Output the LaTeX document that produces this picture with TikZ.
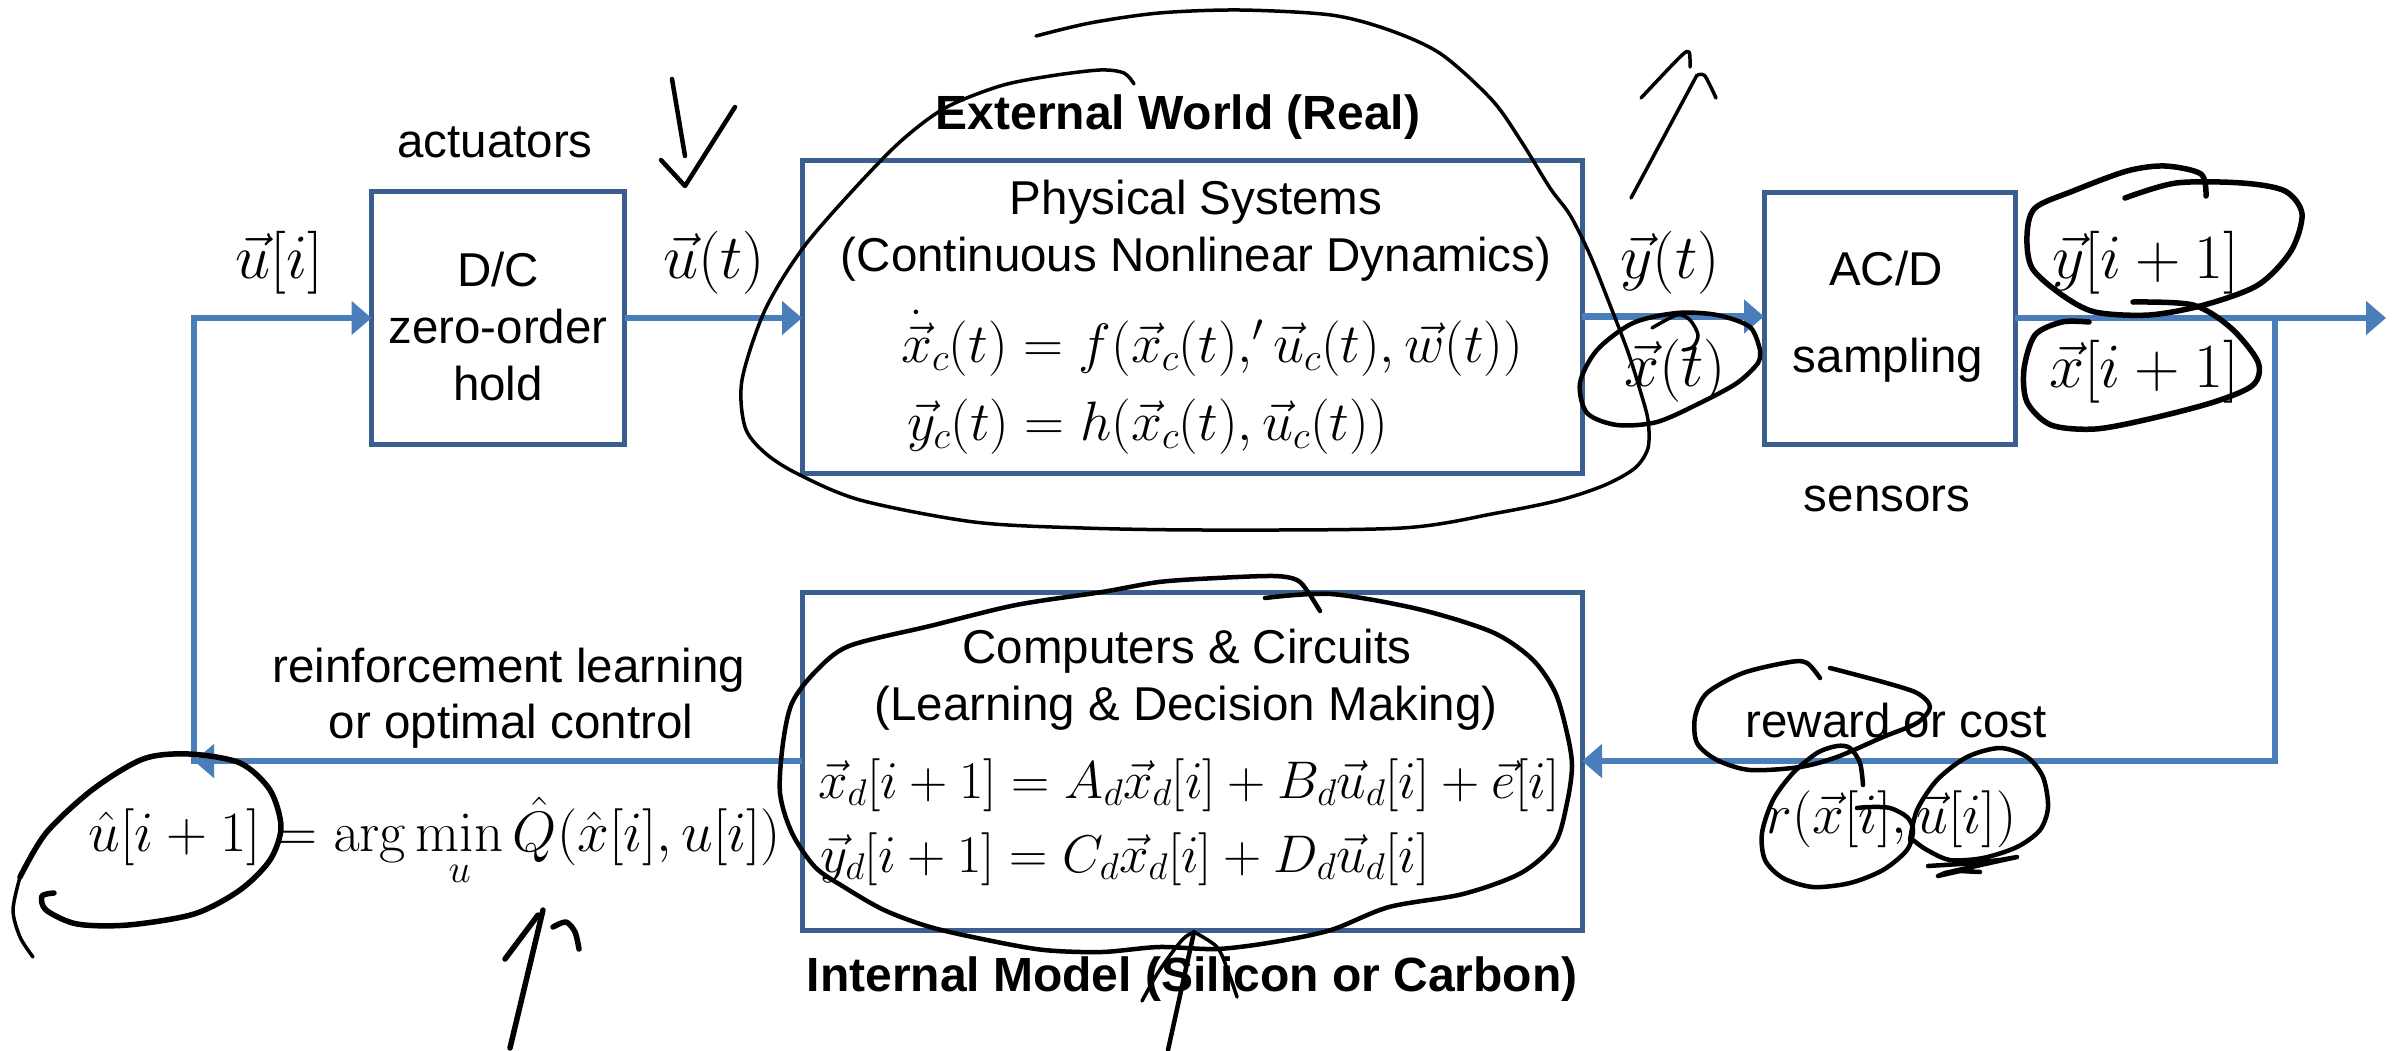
\RequirePackage{fix-cm}
\documentclass[tikz,border=0pt]{standalone}
\usepackage[no-math]{fontspec}
\setmainfont{Liberation Sans}
\usetikzlibrary{arrows.meta}
\definecolor{arrowblue}{HTML}{4A7EBB}
\definecolor{boxblue}{HTML}{3A5F8E}
\tikzset{
  blk/.style={draw=boxblue, line width=5pt, inner sep=0pt, outer sep=0pt},
  conn/.style={draw=arrowblue, line width=6.5pt, -{Triangle[length=20pt,width=33pt]}},
  txt/.style={font=\fontsize{47.5}{50}\selectfont, inner sep=0pt, anchor=base},
  bld/.style={font=\fontsize{48}{50}\selectfont\bfseries, inner sep=0pt, anchor=base},
  mbig/.style={font=\fontsize{63}{66}\selectfont, inner sep=0pt, anchor=base},
  meq/.style={font=\fontsize{55.5}{60}\selectfont, inner sep=0pt, anchor=base west},
  mdq/.style={font=\fontsize{53}{60}\selectfont, inner sep=0pt, anchor=base west},
  mlo/.style={font=\fontsize{57}{60}\selectfont, inner sep=0pt, anchor=base},
  ink/.style={draw=black, line width=4.5pt, line cap=round, line join=round},
  inkthin/.style={draw=black, line width=3.5pt, line cap=round, line join=round},
  inkthick/.style={draw=black, line width=5.5pt, line cap=round, line join=round}
}
\begin{document}
\begin{tikzpicture}[x=1pt,y=-1pt]
\useasboundingbox (0,0) rectangle (2404,1050);
\fill[white] (0,0) rectangle (2404,1050);

% blocks
\node[blk, minimum width=253pt, minimum height=253pt] (dc) at (498,318) {};
\node[blk, minimum width=780pt, minimum height=313pt] (phys) at (1192,316.5) {};
\node[blk, minimum width=251pt, minimum height=252pt] (acd) at (1889.5,318) {};
\node[blk, minimum width=780pt, minimum height=338pt] (intm) at (1192,761) {};

% texts in blocks
\node[txt] (dc1) at (498,286) {D/C};
\node[txt] (dc2) at (498,343) {zero-order};
\node[txt] (dc3) at (498,400) {hold};
\node[txt] (ps1) at (1196,214) {Physical Systems};
\node[txt] (ps2) at (1196,271) {(Continuous Nonlinear Dynamics)};
\node[meq] (eq1) at (901,362) {$\dot{\vec{x}}_c(t) = f(\vec{x}_c(t),'\vec{u}_c(t),\vec{w}(t))$};
\node[meq] (eq2) at (907,440) {$\vec{y}_c(t) = h(\vec{x}_c(t),\vec{u}_c(t))$};
\node[txt] (ac1) at (1886,285) {AC/D};
\node[txt] (ac2) at (1888,372) {sampling};
\node[txt] (cc1) at (1187,663) {Computers \& Circuits};
\node[txt] (cc2) at (1186,720) {(Learning \& Decision Making)};
\node[mdq] (eq3) at (818,798) {$\vec{x}_d[i+1] = A_d\vec{x}_d[i] + B_d\vec{u}_d[i] + \vec{e}[i]$};
\node[mdq] (eq4) at (820,872) {$\vec{y}_d[i+1] = C_d\vec{x}_d[i] + D_d\vec{u}_d[i]$};

% outside labels
\node[txt] (act) at (495,157) {actuators};
\node[txt] (sens) at (1887,511) {sensors};
\node[bld] (ext) at (1178,129) {External World (Real)};
\node[bld] (intl) at (1192,991) {Internal Model (Silicon or Carbon)};
\node[mbig] (ui) at (279,278) {$\vec{u}[i]$};
\node[mbig] (ut) at (714,278) {$\vec{u}(t)$};
\node[mbig] (yt) at (1670,278) {$\vec{y}(t)$};
\node[mbig] (xt) at (1675,386) {$\vec{x}(t)$};
\node[mbig] (yi) at (2146,278) {$\vec{y}[i+1]$};
\node[mbig] (xi) at (2144,387) {$\vec{x}[i+1]$};
\node[txt] (rl1) at (509,682) {reinforcement learning};
\node[txt] (rl2) at (511,738) {or optimal control};
\node[mlo] (amin) at (435,851) {$\displaystyle\hat{u}[i+1] = \arg\min_{\rule{0pt}{30pt}u} \hat{Q}(\hat{x}[i], u[i])$};
\node[txt] (rw) at (1896,737) {reward or cost};
\node[mlo] (rfun) at (1891,833) {$r(\vec{x}[i],\vec{u}[i])$};

% connectors
\coordinate (outend) at (2386,316);
\coordinate (br) at (2275,316);
\coordinate (cl) at (194,763);
\draw[conn] (dc.east) -- (dc.east -| phys.west);
\draw[conn] (phys.east) -- (phys.east -| acd.west);
\draw[conn] (acd.east) -- (acd.east -| outend);
\draw[conn] (acd.east -| br) |- (intm.east);
\draw[conn] (intm.west) -- (intm.west -| cl);
\draw[conn, line cap=rect] (intm.west -| cl) |- (dc.west);

% handwritten ink
\draw[ink] (672,79) -- (685,156);
\draw[ink] (661,160) -- (685,186) -- (735,107);

\draw[inkthin] plot[smooth] coordinates {(1134,84) (1124,73) (1100,70) (1050,76) (1000,86) (945,108) (901,141) (855,188) (803,248) (765,310) (742,380) (745,427) (764,452) (796,473) (860,500) (974,522) (1083,528) (1210,530) (1402,528) (1497,513) (1560,500) (1605,485) (1635,468) (1648,448) (1648,420) (1640,390) (1628,352) (1610,305) (1590,255) (1570,215) (1550,188) (1521,141) (1492,100) (1441,54) (1389,30) (1331,15) (1240,10) (1159,13) (1090,23) (1036,36)};

\draw[inkthin] (1631,198) -- (1697,75);
\draw[inkthin] plot[smooth] coordinates {(1641,98) (1680,57) (1689,52) (1690,67)};
\draw[inkthin] plot[smooth] coordinates {(1698,75) (1705,76) (1716,98)};

\draw[ink] plot[smooth] coordinates {(1760,350) (1750,327) (1717,315) (1677,313) (1633,323) (1597,350) (1580,383) (1587,413) (1617,425) (1657,422) (1700,403) (1737,383) (1758,363) (1760,350)};
\draw[inkthin] plot[smooth] coordinates {(1652,328) (1677,315) (1690,320) (1698,335) (1693,347) (1683,350)};

\draw[inkthick] plot[smooth] coordinates {(2206,196) (2201,174) (2165,166) (2127,171) (2073,191) (2035,208) (2027,235) (2032,268) (2062,295) (2095,312) (2149,315) (2204,305) (2258,285) (2291,251) (2302,214) (2285,191) (2242,183) (2176,183) (2125,198)};
\draw[inkthick] plot[smooth] coordinates {(2133,302) (2193,305) (2231,328) (2258,362) (2253,385) (2214,402) (2149,419) (2095,429) (2051,425) (2027,402) (2024,369) (2035,335) (2062,322) (2089,322)};

\draw[inkthick] plot[smooth] coordinates {(54,893) (42,896) (46,910) (77,924) (128,925) (194,914) (240,890) (270,860) (281,827) (270,790) (240,763) (189,754) (143,759) (92,790) (46,833) (20,877)};
\draw[inkthin] plot[smooth] coordinates {(20,877) (13,910) (20,937) (33,957)};

\draw[inkthick] (510,1048) -- (543,910);
\draw[inkthick] (505,959) -- (538,915);
\draw[inkthick] plot[smooth] coordinates {(553,927) (566,922) (575,932) (579,949)};

\draw[ink] plot[smooth] coordinates {(1265,598) (1331,594) (1418,609) (1492,632) (1532,659) (1555,692) (1567,733) (1572,766) (1567,803) (1555,843) (1521,873) (1463,894) (1389,907) (1331,930) (1274,942) (1217,949) (1159,947) (1102,952) (1044,950) (987,940) (930,927) (884,910) (844,887) (815,867) (792,833) (780,793) (783,743) (792,703) (815,672) (849,646) (930,626) (1016,605) (1102,592) (1159,582) (1217,578) (1274,576) (1297,580) (1308,592) (1320,611)};

\draw[ink] (1168,1050) -- (1194,932);
\draw[inkthin] plot[smooth] coordinates {(1142,1001) (1159,971) (1182,940) (1194,932)};
\draw[inkthin] plot[smooth] coordinates {(1194,932) (1217,947) (1228,971) (1237,997)};

\draw[ink] plot[smooth] coordinates {(1830,668) (1883,682) (1917,693) (1930,707) (1917,723) (1883,737) (1837,757) (1800,767) (1750,770) (1717,760) (1697,743) (1695,717) (1707,693) (1743,673) (1790,662) (1807,663) (1820,678)};
\draw[ink] plot[smooth] coordinates {(1863,785) (1860,763) (1850,748) (1837,746) (1817,753) (1793,773) (1773,800) (1762,833) (1765,860) (1783,878) (1813,887) (1850,883) (1883,870) (1907,850) (1913,830) (1907,817) (1890,808) (1870,807) (1857,808)};
\draw[ink] plot[smooth] coordinates {(1910,840) (1917,810) (1937,780) (1967,757) (2000,748) (2027,757) (2043,777) (2048,807) (2040,830) (2017,847) (1983,858) (1950,860) (1927,850) (1913,840)};
\draw[ink] plot coordinates {(1928,866) (1960,864) (2000,860) (2017,857) (1985,864) (1945,873) (1938,876) (1960,871) (1980,872)};
\end{tikzpicture}
\end{document}
